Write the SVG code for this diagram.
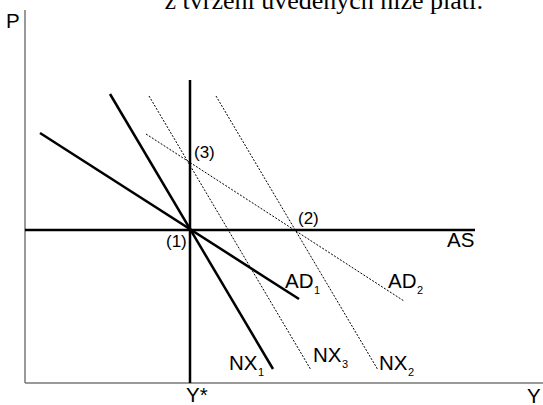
<svg xmlns="http://www.w3.org/2000/svg" width="543" height="405" viewBox="0 0 543 405">
<style>
.ax{stroke:#777;stroke-width:1.5;fill:none}
.th{stroke:#000;stroke-width:2.5;fill:none;stroke-linecap:butt}
.dt{stroke:#000;stroke-width:1;fill:none;stroke-dasharray:2 1.5}
.lb{font-family:"Liberation Sans",Arial,sans-serif;font-size:20.5px;fill:#000}
.sm{font-family:"Liberation Sans",Arial,sans-serif;font-size:17px;fill:#000}
.sb{font-family:"Liberation Sans",Arial,sans-serif;font-size:11px;fill:#000}
.hd{font-family:"Liberation Serif","Times New Roman",serif;font-size:26px;fill:#000}
</style>
<rect width="543" height="405" fill="#fff"/>
<text class="hd" x="324" y="9" text-anchor="middle">z tvrzení uvedených níže platí:</text>
<g id="axes">
<line class="ax" x1="25" y1="10" x2="25" y2="383"/>
<line class="ax" x1="25" y1="383" x2="543" y2="383"/>
<text class="lb" x="6" y="28">P</text>
<text class="lb" x="527" y="403">Y</text>
</g>
<g id="connectors">
<line class="th" x1="190" y1="80" x2="190" y2="383"/>
<line class="th" x1="25" y1="230" x2="475" y2="230"/>
<line class="th" x1="110" y1="94" x2="273" y2="369"/>
<line class="th" x1="40" y1="133" x2="299" y2="299"/>
<line class="dt" x1="149" y1="96" x2="311" y2="370"/>
<line class="dt" x1="216" y1="96" x2="378" y2="370"/>
<line class="dt" x1="146" y1="134" x2="404" y2="301"/>
</g>
<g id="Ystar"><text class="lb" x="186" y="402">Y*</text></g>
<g id="AS"><text class="lb" x="447" y="247">AS</text></g>
<g id="p1"><text class="sm" x="166" y="247">(1)</text></g>
<g id="p2"><text class="sm" x="298" y="224">(2)</text></g>
<g id="p3"><text class="sm" x="194" y="158">(3)</text></g>
<g id="AD1"><text class="lb" x="285" y="288">AD</text><text class="sb" x="314" y="294">1</text></g>
<g id="AD2"><text class="lb" x="388" y="288">AD</text><text class="sb" x="417" y="294">2</text></g>
<g id="NX1"><text class="lb" x="229" y="370">NX</text><text class="sb" x="258" y="376">1</text></g>
<g id="NX3"><text class="lb" x="313" y="362">NX</text><text class="sb" x="342" y="368">3</text></g>
<g id="NX2"><text class="lb" x="379" y="370">NX</text><text class="sb" x="408" y="376">2</text></g>
</svg>
